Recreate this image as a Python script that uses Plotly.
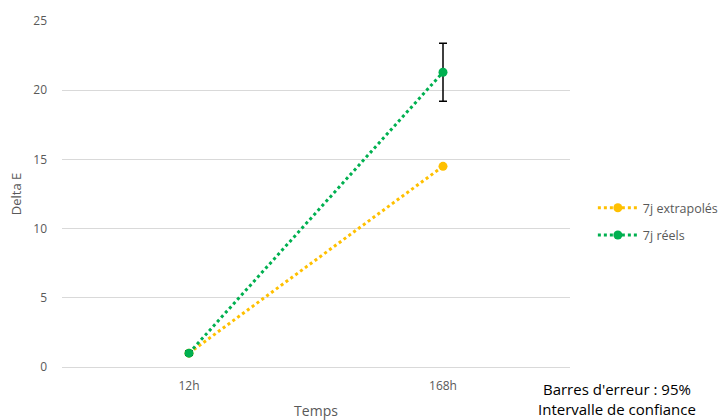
import plotly.graph_objects as go

categories = ["12h", "168h"]
extrapoles = [1.0, 14.5]
reels = [1.0, 21.3]
reels_err = [0.15, 2.1]
y_ticks = [0, 5, 10, 15, 20, 25]

font_family = "Open Sans, Liberation Sans, sans-serif"
grey = "#595959"

fig = go.Figure()
fig.add_trace(go.Scatter(
    x=categories, y=extrapoles, name="7j extrapolés", mode="lines+markers", legendgroup="a",
    line=dict(color="#FFC000", width=3, dash="dot"),
    marker=dict(color="#FFC000", size=9),
))
fig.add_trace(go.Scatter(
    x=categories, y=reels, name="7j réels", mode="lines+markers", legendgroup="b",
    line=dict(color="#00B050", width=3, dash="dot"),
    marker=dict(color="#00B050", size=9),
    error_y=dict(type="data", array=reels_err, visible=True, color="#000000", thickness=1.5, width=4),
))

fig.update_layout(
    width=722, height=420,
    margin=dict(l=62, r=152, t=21, b=53, autoexpand=False),
    paper_bgcolor="white", plot_bgcolor="white",
    font=dict(family=font_family, size=12, color=grey),
    showlegend=True,
    legend=dict(x=1.045, y=0.42, xanchor="left", yanchor="middle",
                font=dict(size=12.5, color=grey), tracegroupgap=8, itemwidth=40,
                bgcolor="rgba(0,0,0,0)"),
    xaxis=dict(type="category", range=[-0.5, 1.5], showgrid=False, showline=True,
               linecolor="#D9D9D9", linewidth=1, automargin=False,
               ticks="", tickfont=dict(size=12, color=grey), ticklabelstandoff=8,
               title=dict(text="Temps", font=dict(size=14, color=grey), standoff=12)),
    yaxis=dict(range=[0, 25], tickvals=y_ticks, showgrid=True, gridcolor="#D9D9D9", gridwidth=1,
               zeroline=False, showline=False, ticks="", tickfont=dict(size=12, color=grey),
               ticklabelstandoff=14, automargin=False,
               title=dict(text="Delta E", font=dict(size=13, color=grey), standoff=8)),
    annotations=[
        dict(text="Barres d'erreur : 95%<br>Intervalle de confiance", xref="paper", yref="paper",
             x=1.0925, y=-0.028, xanchor="center", yanchor="top", showarrow=False, align="center",
             font=dict(size=15, color="#000000")),
    ],
)

fig.write_html("out.html")
